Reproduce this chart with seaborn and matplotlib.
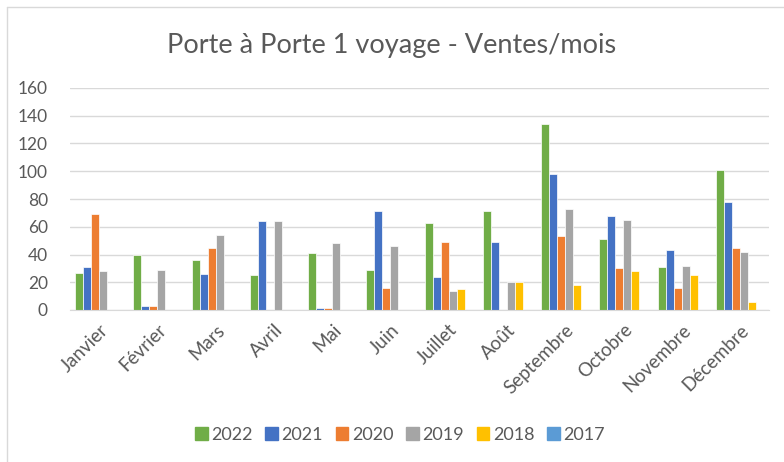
import numpy as np
import pandas as pd
import matplotlib.pyplot as plt
import seaborn as sns
from matplotlib.lines import Line2D

months = ['Janvier', 'Février', 'Mars', 'Avril', 'Mai', 'Juin', 'Juillet',
          'Août', 'Septembre', 'Octobre', 'Novembre', 'Décembre']
years = ['2022', '2021', '2020', '2019', '2018', '2017']

nan = np.nan
v2022 = [27, 40, 36, 25, 41, 29, 63, 71, 134, 51, 31, 101]
v2021 = [31, 3, 26, 64, 1.5, 71, 24, 49, 98, 68, 43, 78]
v2020 = [69, 3, 45, nan, 1.5, 16, 49, nan, 53, 30, 16, 45]
v2019 = [28, 29, 54, 64, 48, 46, 14, 20, 73, 65, 32, 42]
v2018 = [nan, nan, nan, nan, nan, nan, 15, 20, 18, 28, 25, 6]
v2017 = [nan] * 12

colors = ['#70AD47', '#4472C4', '#ED7D31', '#A5A5A5', '#FFC000', '#5B9BD5']

series = [v2022, v2021, v2020, v2019, v2018, v2017]
rows = []
for y, vals in zip(years, series):
    for m, v in zip(months, vals):
        rows.append({'mois': m, 'annee': y, 'ventes': v})
df = pd.DataFrame(rows)

sns.set_style('white')
plt.rcParams['font.family'] = ['Lato', 'DejaVu Sans']

fig = plt.figure(figsize=(7.84, 4.62), dpi=100)
ax = fig.add_axes([70 / 784, 1 - 310 / 462, 699 / 784, 222 / 462])

sns.barplot(data=df, x='mois', y='ventes', hue='annee', order=months,
            hue_order=years, palette=colors, width=0.82, errorbar=None,
            edgecolor='white', linewidth=0.5, saturation=1, ax=ax)

ax.set_ylim(0, 160)
ax.set_yticks(range(0, 161, 20))
ax.set_xlim(-0.5, 11.5)
ax.yaxis.grid(True, color='#d9d9d9', linewidth=1)
ax.set_axisbelow(True)
for s in ['top', 'right', 'left']:
    ax.spines[s].set_visible(False)
ax.spines['bottom'].set_color('#d9d9d9')
ax.set_xlabel('')
ax.set_ylabel('')
ax.tick_params(axis='y', length=0, labelsize=12.5, labelcolor='#595959', pad=16)
ax.tick_params(axis='x', length=0, labelsize=13.5, labelcolor='#595959', pad=8)
plt.setp(ax.get_xticklabels(), rotation=45, ha='right', rotation_mode='anchor')

handles = [plt.Rectangle((0, 0), 1, 1, color=c) for c in colors]
ax.legend(handles, years, loc='center', bbox_to_anchor=(0.51, 1 - 435 / 462),
          bbox_transform=fig.transFigure, ncol=6, frameon=False,
          fontsize=13, handlelength=0.7, handleheight=0.7,
          handletextpad=0.2, columnspacing=0.7, labelcolor='#595959')

fig.text(0.5, 1 - 45 / 462, 'Porte à Porte 1 voyage - Ventes/mois',
         ha='center', va='center', fontsize=19.5, color='#595959')

# chart frame
fig.add_artist(Line2D([7 / 784, 7 / 784], [0, 1 - 7 / 462], color='#d9d9d9', lw=1))
fig.add_artist(Line2D([7 / 784, 1], [1 - 7 / 462, 1 - 7 / 462], color='#d9d9d9', lw=1))

fig.savefig('out.png', dpi=100, facecolor='white')
